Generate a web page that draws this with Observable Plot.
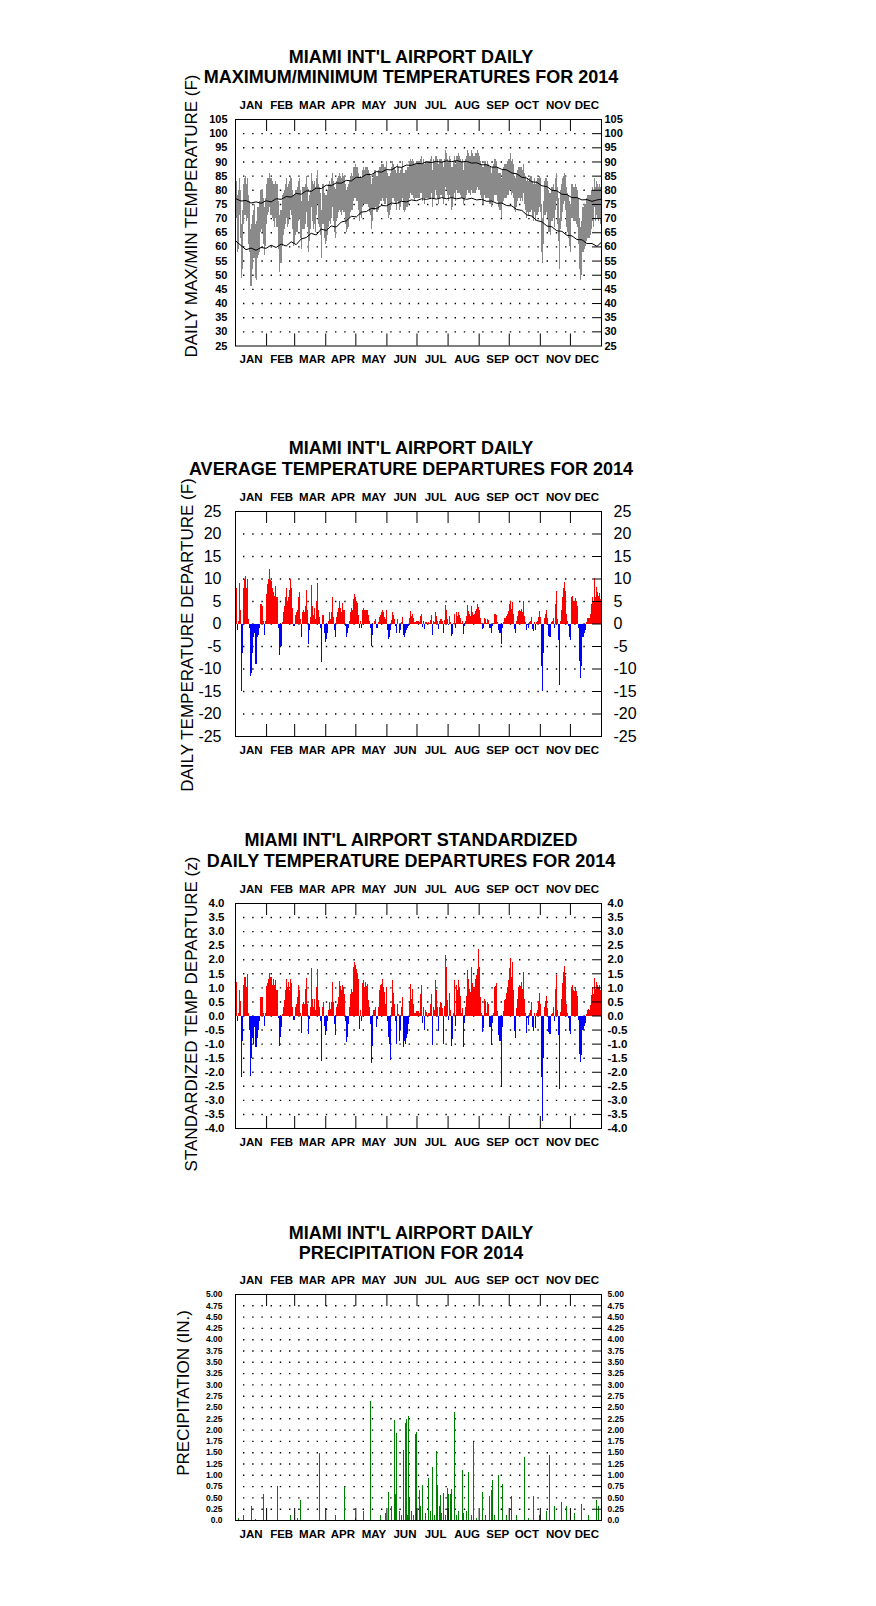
<!DOCTYPE html>
<html><head><meta charset="utf-8">
<script src="https://cdn.jsdelivr.net/npm/d3@7"></script>
<script src="https://cdn.jsdelivr.net/npm/@observablehq/plot@0.6"></script>
<style>
body{margin:0;background:#fff;}
#root{position:relative;width:876px;height:1606px;background:#fff;font-family:"Liberation Sans",Arial,sans-serif;color:#000;overflow:hidden}
.t{position:absolute;white-space:nowrap;transform:translate(-50%,-50%);font-weight:bold;font-size:18px;line-height:1}
.yt{position:absolute;white-space:nowrap;transform:translate(-50%,-50%) rotate(-90deg);font-size:17px;line-height:1}
.p{position:absolute;left:0}
</style></head><body><div id="root"></div>
<script>
// ---------- shared axis data ----------
const months = ["JAN","FEB","MAR","APR","MAY","JUN","JUL","AUG","SEP","OCT","NOV","DEC"];
const monthStart = [31,59,90,120,151,181,212,243,273,304,334];
const monthLabelDay = [15.5,46,76.5,107,138,169,199.5,231,261.5,290.5,322,350.5];

// ---------- panel 1: daily max / min temperature (F) ----------
const maxT = [
 82,83,78,80,84,80,68,73,82,84,85,82,84,78,76,66,68,71,73,75,68,69,74,74,76,80,80,80,77,74,77,
 82,84,84,86,84,84,83,82,82,83,82,82,76,71,73,73,78,79,80,82,84,81,82,83,85,84,80,78,
 78,80,80,81,83,84,80,76,81,81,81,82,85,81,76,78,80,86,83,82,83,81,84,87,82,81,79,73,82,82,79,
 78,78,80,82,83,82,84,86,83,81,80,83,84,85,86,85,84,86,85,85,82,80,81,82,83,85,86,85,88,88,
 89,88,88,86,84,85,84,87,88,87,88,88,88,87,86,85,82,84,86,87,87,85,85,87,88,88,89,89,89,88,88,
 90,86,85,85,86,88,90,89,88,87,86,89,88,86,87,88,90,86,86,87,87,88,88,90,91,90,91,90,89,89,
 90,90,90,91,92,89,91,89,90,90,90,90,90,91,92,87,91,90,92,92,91,89,91,91,91,90,88,91,94,93,91,
 90,92,91,88,88,90,92,89,92,92,93,92,91,90,91,87,90,91,92,94,93,92,92,94,93,92,92,93,93,94,93,
 92,90,89,88,88,90,90,89,90,89,88,88,86,88,89,91,91,90,88,86,86,86,84,87,88,89,89,89,90,91,
 91,93,90,91,89,85,84,86,87,88,88,88,88,87,89,86,85,83,84,83,84,85,85,83,82,84,82,83,84,84,85,
 84,75,70,76,83,84,84,83,80,79,79,81,81,82,80,84,86,81,77,70,80,82,84,85,86,85,81,79,78,76,
 75,82,82,81,81,82,81,80,77,70,67,69,74,74,75,75,77,78,78,78,78,80,81,80,84,81,83,82,81,82,81];
const minT = [
 71,70,58,59,71,63,49,52,68,71,71,69,70,61,58,46,46,52,56,56,49,48,56,57,58,65,66,65,61,57,60,
 68,71,72,74,71,71,70,69,67,70,67,67,59,51,54,54,60,64,66,68,70,67,68,70,73,71,66,60,
 61,64,65,65,69,70,63,59,66,66,66,68,72,67,58,62,66,74,69,66,68,65,71,75,68,67,64,56,68,68,63,
 61,62,64,67,69,68,70,74,69,65,63,69,70,72,73,72,71,73,72,72,68,65,66,67,70,72,73,73,76,77,
 77,76,76,73,69,71,70,74,75,75,75,75,75,74,72,71,66,69,73,73,74,72,72,73,75,76,76,77,76,75,75,
 77,72,70,71,73,75,77,77,76,75,73,76,75,73,74,76,77,73,72,73,74,74,75,77,79,78,78,77,76,77,
 77,77,77,79,79,76,77,75,77,77,77,77,77,77,79,74,77,77,80,78,77,75,77,78,78,77,75,77,81,80,78,
 76,78,77,73,74,77,79,76,80,79,79,79,78,77,77,75,76,77,78,80,79,79,78,80,79,79,79,79,80,81,80,
 80,78,77,75,75,78,77,77,77,77,75,75,74,75,76,78,78,78,76,74,73,73,70,75,76,77,77,77,78,78,
 80,80,78,79,77,73,72,74,76,77,77,76,77,76,79,75,73,70,72,71,72,72,73,70,69,72,69,71,71,72,74,
 72,58,54,61,71,71,72,70,65,65,64,69,69,70,67,73,76,68,62,52,66,69,72,75,76,73,67,65,63,60,
 58,70,70,69,69,69,68,67,61,52,48,50,58,58,59,60,62,63,63,63,64,66,69,67,74,69,71,70,69,70,68];
const normalDay = [0,5,10,15,20,25,30,35,40,45,50,55,60,65,70,75,80,85,90,95,100,105,110,115,120,125,130,135,140,145,150,155,160,165,170,175,180,185,190,195,200,205,210,215,220,225,230,235,240,245,250,255,260,265,270,275,280,285,290,295,300,305,310,315,320,325,330,335,340,345,350,355,360,364];
const normalMax = [77,76.2,76.4,75.5,75.9,75.4,76.3,75.9,77,76.8,77.8,77.6,78.9,78.6,79.8,79.6,80.8,80.6,81.8,81.6,82.6,82.5,83.5,83.3,84.6,84.5,85.6,85.5,86.6,86.4,87.3,87.2,88.3,88.1,88.9,88.8,89.5,89.4,90,89.8,90.2,89.9,90.4,90.1,90.5,90,90.2,89.6,89.7,89,89,88.2,88.2,87.4,87.2,86.1,85.8,84.6,84.3,83,82.8,81.6,81.3,80,79.8,78.6,78.5,77.4,77.4,76.6,76.7,76.1,76.6,76.8];
const normalMin = [62,60.5,59,59.6,58.8,59.8,59.5,60.6,59.8,61,60.3,61.8,60.8,62.8,63.3,64.8,64.2,66.3,65.8,67.4,67,68.8,69.2,70.8,70.6,72.3,72.5,73.6,73.5,74.6,74.5,75.5,75.3,76.1,75.9,76.6,76.3,77,76.8,77.2,76.9,77.4,77,77.4,77,77.3,76.8,77.2,76.6,76.8,76.1,76.2,75.4,75.5,74.6,74.5,73.2,72.9,71.3,70.9,69.3,68.9,67.4,67.1,65.7,65.5,64.1,63.9,62.6,62.5,61.2,61.2,60.2,61.5];
const p1Ticks = [105,100,95,90,85,80,75,70,65,60,55,50,45,40,35,30,25];

// ---------- panel 2: daily average temperature departure (F) ----------
const departure = [
 8,8,-1.5,0.5,9,3,-15,-6.5,8,10,10.5,8,10,1,-1,-11.7,-11,-6.5,-3,-2,-9,-9,-3,-2.5,-1,4.3,4.3,4,0.5,-2.5,0.5,
 6.6,8.8,10,12.2,9.7,9.5,8,7,6.2,8.4,6,6,-1,-7,-5,-5,0.3,2.5,4,6,8,5,6,7.5,10,8,3.5,-0.5,
 -0.5,2,2.5,3,6,7,1,-3,2.5,3,2.5,4,7.5,3,-4.5,-1.5,1.5,8.5,4,2,3.5,1,5,9,3,1.5,-1,-8.5,2,2,-2,
 -4,-3.5,-2,0.5,2.5,1,2.5,6,1.5,-1.5,-3,1.5,2.5,3.5,5,3.5,2.5,4.5,3,3,-0.5,-3,-2,-1,0.5,2.5,3.5,3,5.5,6.5,
 6,5,4.5,2,-1,0.5,-1,3,3.5,3,3,3,3,2,0.5,-1,-5,-2.5,0,0.5,1,-1,-1,0.3,1.5,2,2.5,3,2.5,1.5,1,
 3,-1.5,-3.5,-3,-1.5,0.8,2.5,2,1,-0.5,-2,1,0,-2,-1.5,0.3,1.5,-2.5,-3,-2,-1.5,-1,-0.5,1.3,2.8,1.7,2.2,1.3,0.3,0.3,
 0.5,0.5,0.3,1.7,2.2,-0.7,0.6,-1.3,0.4,0.3,0,0.3,0.2,0.8,2,-2.5,0.6,0.4,2.5,1.7,0.6,-1.3,0.6,1.1,1,0.5,-2,0.8,4.2,3,1,
 -0.3,1.7,0.4,-2.8,-2.4,0.2,2.2,-0.9,2.5,1.7,2.5,1.9,1.3,0.2,0.5,-2.4,-0.5,0.6,1.7,4.1,2.8,2.1,1.7,4,2.5,1.9,2.1,2.8,3.2,4.3,3.6,
 3,1.3,0.2,-1.3,-0.9,1.2,1,0.2,1,0.8,-0.9,-0.9,-2.2,-0.5,0.2,2.1,2.2,1.9,0.3,-1.5,-2,-2,-4.5,-0.9,0.3,1.2,1.3,1.7,2.2,2.8,
 4.3,4.9,3.2,4.8,2.2,-1.3,-2,0.6,1.7,2.8,3,2.8,3.2,2.5,4.9,1.7,0.3,-1.5,-0.3,-0.9,0.3,0.6,1.5,-1.2,-1.6,0.3,-1.5,0.3,0.6,1.5,2.8,
 1.5,-9.5,-15,-6.5,1.3,2.1,3,1.2,-2.8,-3,-3.1,0.3,0.5,1.3,-0.9,4.3,7.3,1,-3.7,-13.6,0.6,3,5.8,8,9.2,7.3,2.1,0.5,-0.5,-3.1,
 -3.7,5.8,6.2,5.1,4.9,5.7,4.9,4,-0.9,-8.4,-12.2,-9.5,-3,-3.1,-2.2,-1.5,0.3,1.2,1.3,1.2,2.2,4.3,6,4.7,10.1,5.8,8.2,6.9,6.2,6.7,5.4];
const p2Ticks = [25,20,15,10,5,0,-5,-10,-15,-20,-25];

// ---------- panel 3: standardized departure (z) ----------
const zDeparture = [
 1.2,1.2,-0.2,0.1,0.9,0.5,-2.2,-0.9,1.07,1.37,1.37,1.0,1.46,0.1,-0.5,-2.14,-1.5,-0.8,-1.0,-0.4,-1.13,-1.13,-0.8,-0.5,-0.2,0.65,0.65,0.65,0.1,-0.36,0.1,
 1.04,1.15,1.3,1.5,1.37,1.37,1.07,1.3,1.07,1.25,0.9,0.9,-0.1,-1.07,-0.77,-0.4,0.05,0.3,0.55,0.9,1.3,1.0,1.2,0.9,1.3,1.15,0.3,-0.15,
 -0.15,0.3,0.4,0.65,1.07,0.9,0.1,-0.63,0.4,0.48,0.4,0.95,1.35,0.4,-0.65,-0.12,0.3,1.7,0.6,0.3,0.6,0.2,1.0,1.67,0.55,0.3,-0.18,-1.6,0.3,0.48,-0.36,
 -0.7,-0.54,-0.18,0.18,0.48,0.24,0.48,1.2,0.48,-0.3,-0.7,0.3,0.42,0.65,1.23,1.04,0.9,1.07,1.0,0.77,-0.18,-0.95,-0.77,-0.3,0.3,0.77,0.95,0.83,1.73,1.9,
 1.8,1.67,1.5,1.3,-0.48,0.18,-0.18,1.15,1.25,1.0,1.2,1.04,1.13,0.54,0.3,-0.3,-1.7,-1.07,0.18,0.18,0.3,-0.42,-0.12,0.3,0.9,1.07,1.13,1.3,1.0,0.83,0.42,
 1.0,-0.2,-0.77,-1.0,-1.58,0.3,1.25,0.8,0.42,-0.2,-1.0,0.42,0.05,-0.9,-0.5,0.3,0.65,-1.13,-0.9,-1.0,-0.8,-0.65,-0.3,0.45,1.13,0.6,0.95,0.42,0.1,0.1,
 0.15,0.15,0.1,0.77,1.1,-0.27,0.3,-0.5,0.18,0.12,0.02,0.1,0.08,0.4,0.77,-1.04,0.3,0.2,1.27,0.9,0.3,-0.54,0.3,0.48,0.45,0.25,-1.0,0.35,2.14,1.73,0.54,
 -0.15,0.8,0.2,-1.07,-0.83,0.1,1.27,-0.36,1.1,0.9,1.27,1.0,0.7,0.1,0.25,-1.13,-0.25,0.3,0.71,1.63,1.3,0.95,0.83,1.73,1.15,0.95,1.0,1.3,1.45,1.67,2.38,
 1.73,0.65,0.1,-0.6,-0.45,0.6,0.5,0.1,0.48,0.42,-0.42,-0.4,-1.04,-0.25,0.1,1.0,1.05,1.15,0.15,-0.7,-0.9,-0.9,-2.5,-0.42,0.15,0.55,0.6,0.8,1.0,1.25,
 1.7,2.06,1.37,1.9,0.9,-0.55,-0.8,0.25,0.6,1.0,1.1,1.05,1.2,0.95,1.55,0.6,0.1,-0.63,-0.1,-0.35,0.1,0.2,0.48,-0.4,-0.54,0.1,-0.45,0.1,0.2,0.5,0.8,
 0.4,-2.2,-3.75,-1.5,0.3,0.5,0.7,0.28,-0.6,-0.65,-0.66,0.06,0.1,0.3,-0.2,0.95,1.43,0.2,-0.7,-2.6,0.12,0.6,1.15,1.55,1.75,1.4,0.4,0.1,-0.1,-0.55,
 -0.65,1.0,1.07,0.9,0.87,1.0,0.87,0.7,-0.15,-1.37,-1.67,-1.4,-0.5,-0.52,-0.37,-0.25,0.05,0.2,0.22,0.2,0.37,0.72,1.0,0.78,1.35,0.95,1.2,1.1,1.0,1.07,0.9];
const p3Ticks = [4,3.5,3,2.5,2,1.5,1,0.5,0,-0.5,-1,-1.5,-2,-2.5,-3,-3.5,-4];

// ---------- panel 4: daily precipitation (in.) ----------
const precipDay = [3,8,16,20,28,42,55,62,65,84,100,109,120,128,135,145,150,153,156,159,160,161,164,166,168,170,171,172,173,174,176,178,180,181,183,184,186,189,192,194,196,198,200,201,203,204,205,207,209,211,212,214,215,218,220,222,226,227,230,232,235,237,240,246,249,253,255,256,258,262,266,270,275,280,288,292,297,303,310,313,318,325,330,338,345,352,360,362];
const precipIn = [0.05,0.1,0.3,0.02,0.58,0.75,0.1,0.05,0.45,1.49,0.1,0.72,0.05,0.2,2.63,0.1,0.15,0.62,0.3,2.21,0.58,1.92,0.2,0.1,1.55,2.14,2.23,0.1,2.3,0.5,0.2,0.1,1.9,1.95,0.66,0.3,0.77,0.15,0.92,0.2,1.17,0.1,1.53,0.77,0.3,0.55,0.15,0.59,0.1,0.71,0.58,0.58,0.68,2.39,0.1,0.2,1.1,0.15,0.2,1.06,0.1,1.73,0.05,0.62,0.1,0.53,0.66,0.88,0.1,0.99,0.8,0.1,0.52,0.1,1.39,0.05,0.52,0.1,0.2,1.43,0.3,0.4,0.3,0.15,0.35,0.1,0.45,0.3];
const p4Ticks = [5,4.75,4.5,4.25,4,3.75,3.5,3.25,3,2.75,2.5,2.25,2,1.75,1.5,1.25,1,0.75,0.5,0.25,0];

// ---------- drawing ----------
const root = document.getElementById("root");
const FONT = '"Liberation Sans", Arial, sans-serif';
const days = d3.range(maxT.length);

function addText(cls, txt, cx, cy, extra) {
  const el = document.createElement("div");
  el.className = cls; el.textContent = txt;
  el.style.left = cx + "px"; el.style.top = cy + "px";
  if (extra) Object.assign(el.style, extra);
  root.appendChild(el);
}

function panel({frameTop, frameH, yDomain, ticks, fmt, tickSize, tickWeight, padL, padR, marks}) {
  const mt = 30, mb = 30, plotW = 876 - 235 - 275;
  const grid = ticks.slice(1, -1);
  const svg = Plot.plot({
    width: 876, height: frameH + mt + mb,
    marginLeft: 235, marginRight: 275, marginTop: mt, marginBottom: mb,
    x: {domain: [0, 365], axis: null},
    y: {domain: yDomain, axis: null},
    style: {fontFamily: FONT, background: "transparent", overflow: "visible", color: "#000"},
    marks: [
      Plot.ruleY(grid, {y: d => d, stroke: "#000", strokeWidth: 1.4, strokeDasharray: "1.4,7.8", insetLeft: 8, insetRight: 10}),
      ...marks,
      Plot.ruleY(grid, {y: d => d, stroke: "#000", strokeWidth: 1, insetLeft: plotW - 9}),
      Plot.ruleX(monthStart, {x: d => d, stroke: "#000", strokeWidth: 1, insetBottom: frameH - 12}),
      Plot.ruleX(monthStart, {x: d => d, stroke: "#000", strokeWidth: 1, insetTop: frameH - 12}),
      Plot.frame({stroke: "#000", strokeWidth: 1}),
      Plot.text(monthLabelDay, {x: d => d, frameAnchor: "top", dy: -14.5, lineAnchor: "middle", text: (d, i) => months[i], fontSize: 11.5, fontWeight: "bold"}),
      Plot.text(monthLabelDay, {x: d => d, frameAnchor: "bottom", dy: 13.5, lineAnchor: "middle", text: (d, i) => months[i], fontSize: 11.5, fontWeight: "bold"}),
      Plot.text(ticks, {y: d => d, frameAnchor: "left", dx: -padL, textAnchor: "end", lineAnchor: "middle", text: fmt, fontSize: tickSize, fontWeight: tickWeight}),
      Plot.text(ticks, {y: d => d, frameAnchor: "right", dx: padR, textAnchor: "start", lineAnchor: "middle", text: fmt, fontSize: tickSize, fontWeight: tickWeight})
    ]
  });
  svg.classList.add("p");
  svg.style.top = (frameTop - mt) + "px";
  root.appendChild(svg);
}

// Panel 1
addText("t", "MIAMI INT'L AIRPORT DAILY", 411, 56.5);
addText("t", "MAXIMUM/MINIMUM TEMPERATURES FOR 2014", 411, 77);
addText("yt", "DAILY MAX/MIN TEMPERATURE (F)", 190.5, 216);
panel({
  frameTop: 118.5, frameH: 226.5, yDomain: [25, 105], ticks: p1Ticks, fmt: d => String(d),
  tickSize: 11, tickWeight: "bold", padL: 8, padR: 3,
  marks: [
    Plot.rect(days, {x1: i => i, x2: i => i + 1, y1: i => minT[i], y2: i => maxT[i], fill: "#8a8a8a", shapeRendering: "crispEdges"}),
    Plot.line(normalDay, {x: d => d + 0.5, y: (d, i) => normalMax[i], stroke: "#000", strokeWidth: 1}),
    Plot.line(normalDay, {x: d => d + 0.5, y: (d, i) => normalMin[i], stroke: "#000", strokeWidth: 1})
  ]
});

// Panel 2
addText("t", "MIAMI INT'L AIRPORT DAILY", 411, 448);
addText("t", "AVERAGE TEMPERATURE DEPARTURES FOR 2014", 411, 469);
addText("yt", "DAILY TEMPERATURE DEPARTURE (F)", 186.5, 634.5);
panel({
  frameTop: 510.5, frameH: 225, yDomain: [-25, 25], ticks: p2Ticks, fmt: d => String(d),
  tickSize: 16, tickWeight: "normal", padL: 14, padR: 12,
  marks: [
    Plot.rect(days, {filter: i => departure[i] > 0, x1: i => i, x2: i => i + 1, y1: 0, y2: i => departure[i], fill: "#ff0000", shapeRendering: "crispEdges"}),
    Plot.rect(days, {filter: i => departure[i] < 0, x1: i => i, x2: i => i + 1, y1: 0, y2: i => departure[i], fill: "#0000ff", shapeRendering: "crispEdges"})
  ]
});

// Panel 3
addText("t", "MIAMI INT'L AIRPORT STANDARDIZED", 411, 840);
addText("t", "DAILY TEMPERATURE DEPARTURES FOR 2014", 411, 860.5);
addText("yt", "STANDARDIZED TEMP DEPARTURE (z)", 190.5, 1014);
panel({
  frameTop: 903, frameH: 225, yDomain: [-4, 4], ticks: p3Ticks, fmt: d => d.toFixed(1),
  tickSize: 11.5, tickWeight: "bold", padL: 11, padR: 6,
  marks: [
    Plot.rect(days, {filter: i => zDeparture[i] > 0, x1: i => i, x2: i => i + 1, y1: 0, y2: i => zDeparture[i], fill: "#ff0000", shapeRendering: "crispEdges"}),
    Plot.rect(days, {filter: i => zDeparture[i] < 0, x1: i => i, x2: i => i + 1, y1: 0, y2: i => zDeparture[i], fill: "#0000ff", shapeRendering: "crispEdges"})
  ]
});

// Panel 4
addText("t", "MIAMI INT'L AIRPORT DAILY", 411, 1232.5);
addText("t", "PRECIPITATION FOR 2014", 411, 1252.5);
addText("yt", "PRECIPITATION (IN.)", 182.5, 1393);
panel({
  frameTop: 1294, frameH: 226, yDomain: [0, 5], ticks: p4Ticks, fmt: d => d === 0 ? "0.0" : d.toFixed(2),
  tickSize: 8.5, tickWeight: "bold", padL: 13, padR: 6,
  marks: [
    Plot.rect(precipDay, {x1: d => d, x2: d => d + 1, y1: 0, y2: (d, i) => precipIn[i], fill: "#008000", shapeRendering: "crispEdges"})
  ]
});
</script></body></html>
